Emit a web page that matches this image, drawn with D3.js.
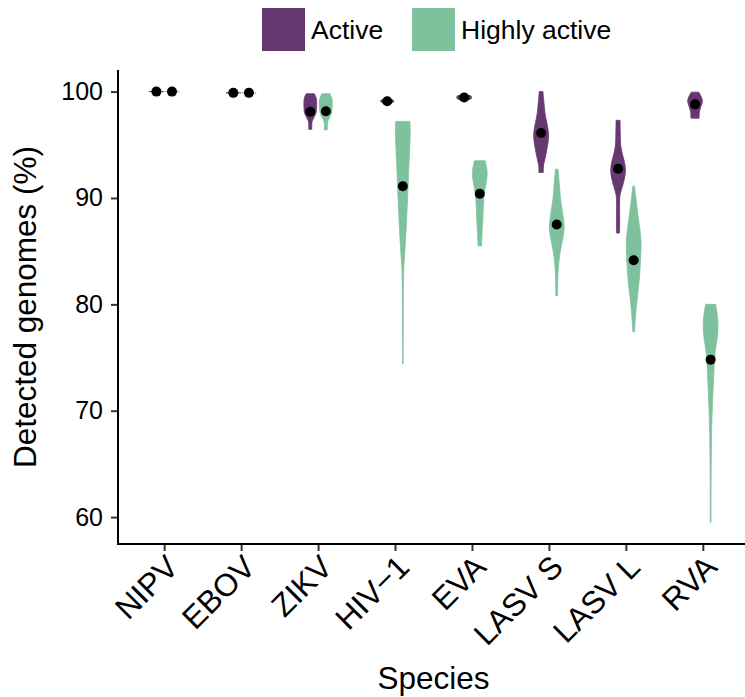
<!DOCTYPE html>
<html>
<head>
<meta charset="utf-8">
<script src="https://cdn.jsdelivr.net/npm/d3@7"></script>
<style>
  body { margin: 0; background: #fff; }
  text { font-family: "Liberation Sans", Arial, Helvetica, sans-serif; fill: #000; }
</style>
</head>
<body>
<svg id="chart" width="745" height="697"></svg>
<script>
// species on the x axis
var species = ["NIPV", "EBOV", "ZIKV", "HIV\u22121", "EVA", "LASV S", "LASV L", "RVA"];
var groups = ["Active", "Highly active"];
var colors = ["#663871", "#7dc19d"];
var yTicks = [60, 70, 80, 90, 100];

// median detected genomes (%)
var medianActive = [100, 99.88, 98.1, 99.1, 99.45, 96.1, 92.75, 98.8];
var medianHighly = [100, 99.88, 98.15, 91.1, 90.4, 87.5, 84.15, 74.8];

// violin outlines: [value %, relative density]
var violinActive = [
  [[100, 1], [100, 1]],
  [[99.88, 1], [99.88, 1]],
  [[99.8, 0.55], [99.4, 0.8], [99.0, 0.86], [98.4, 0.84], [98.0, 0.78], [97.5, 0.45], [97.2, 0.25], [96.8, 0.2], [96.45, 0.2]],
  [[99.3, 0.1], [99.2, 0.8], [99.1, 0.9], [99.0, 0.8], [98.85, 0.1]],
  [[99.7, 0.1], [99.6, 0.9], [99.45, 1], [99.3, 0.9], [99.2, 0.1]],
  [[100, 0.25], [99.3, 0.33], [98.75, 0.41], [98.0, 0.52], [97.5, 0.64], [96.8, 0.85], [96.0, 1], [95.3, 0.95], [94.4, 0.73], [93.6, 0.5], [93.1, 0.33], [92.4, 0.3]],
  [[97.3, 0.27], [96.0, 0.3], [95.0, 0.35], [94.2, 0.55], [93.4, 0.85], [92.6, 1], [91.8, 0.85], [91.0, 0.55], [90.3, 0.27], [89.5, 0.2], [88.0, 0.22], [86.7, 0.2]],
  [[99.95, 0.5], [99.5, 0.85], [99.1, 1], [98.6, 0.8], [98.1, 0.6], [97.5, 0.55]]
];
var violinHighly = [
  [[100, 1], [100, 1]],
  [[99.88, 1], [99.88, 1]],
  [[99.8, 0.55], [99.4, 0.8], [99.0, 0.86], [98.4, 0.84], [98.0, 0.78], [97.5, 0.45], [97.2, 0.25], [96.8, 0.2], [96.4, 0.2]],
  [[97.2, 0.95], [96.5, 1], [95, 0.95], [93, 0.82], [91, 0.7], [89, 0.58], [87, 0.44], [85, 0.28], [83.5, 0.13], [82, 0.08], [80, 0.06], [78, 0.05], [76, 0.04], [74.4, 0.04]],
  [[93.5, 0.73], [93.0, 0.88], [92.4, 1], [91.8, 0.95], [91.0, 0.75], [90.4, 0.6], [89.5, 0.5], [88.0, 0.41], [87.0, 0.33], [86.0, 0.26], [85.5, 0.24]],
  [[92.7, 0.18], [91.2, 0.36], [90.0, 0.5], [89.3, 0.64], [88.3, 0.85], [87.3, 1], [86.5, 0.9], [85.6, 0.64], [84.4, 0.36], [83.0, 0.18], [82.0, 0.14], [80.8, 0.12]],
  [[91.1, 0.12], [90.0, 0.3], [88.5, 0.55], [87.0, 0.85], [85.8, 1], [84.5, 0.95], [83.2, 0.85], [82.3, 0.75], [81.0, 0.55], [79.8, 0.36], [78.5, 0.2], [77.4, 0.12]],
  [[80.0, 0.68], [79.0, 0.9], [78.0, 1], [77.0, 0.92], [76.0, 0.7], [75.0, 0.55], [73.5, 0.42], [72.5, 0.36], [71.0, 0.27], [69.4, 0.18], [67.5, 0.12], [66.0, 0.09], [63.0, 0.06], [59.5, 0.05]]
];

var svg = d3.select("#chart");
var margin = { left: 118, right: 749, top: 70, bottom: 544 };

var x = d3.scalePoint().domain(species).range([margin.left, margin.right]).padding(0.6);
var y = d3.scaleLinear().domain([57.47, 102.03]).range([margin.bottom, margin.top]);
var dodge = 7.8;      // px offset of each group from the species centre
var halfWidth = d3.scaleLinear().domain([0, 1]).range([0, 7.4]);

//violins
var violins = [violinActive, violinHighly];
var medians = [medianActive, medianHighly];
var plot = svg.append("g");
groups.forEach(function(g, gi) {
  var off = gi === 0 ? -dodge : dodge;
  violins[gi].forEach(function(prof, i) {
    var cx = x(species[i]) + off;
    var area = d3.area()
      .y(function(d) { return y(d[0]); })
      .x0(function(d) { return cx - halfWidth(d[1]); })
      .x1(function(d) { return cx + halfWidth(d[1]); })
      .curve(d3.curveCatmullRom);
    plot.append("path")
      .datum(prof)
      .attr("d", area)
      .attr("fill", colors[gi])
      .attr("stroke", colors[gi])
      .attr("stroke-width", 0.8);
  });
});

//median points
groups.forEach(function(g, gi) {
  var off = gi === 0 ? -dodge : dodge;
  plot.selectAll(".med" + gi)
    .data(medians[gi])
    .enter()
    .append("circle")
    .attr("cx", function(d, i) { return x(species[i]) + off; })
    .attr("cy", function(d) { return y(d); })
    .attr("r", 5)
    .attr("fill", "#000");
});

//y axis
var yAxis = svg.append("g")
  .attr("transform", "translate(" + margin.left + ",0)")
  .call(d3.axisLeft(y).tickValues(yTicks).tickSize(7).tickPadding(8));
yAxis.select(".domain").remove();
yAxis.selectAll(".tick line").attr("stroke", "#333").attr("stroke-width", 2);
yAxis.selectAll(".tick text").style("font-size", "25px").attr("fill", "#000");
svg.append("line")
  .attr("x1", margin.left).attr("x2", margin.left)
  .attr("y1", margin.top).attr("y2", margin.bottom + 1)
  .attr("stroke", "#000").attr("stroke-width", 2);

//x axis
var xAxis = svg.append("g")
  .attr("transform", "translate(0," + margin.bottom + ")")
  .call(d3.axisBottom(x).tickSize(7).tickFormat(""));
xAxis.select(".domain").remove();
xAxis.selectAll(".tick line").attr("stroke", "#333").attr("stroke-width", 2);
svg.append("line")
  .attr("x1", margin.left - 1).attr("x2", 745)
  .attr("y1", margin.bottom).attr("y2", margin.bottom)
  .attr("stroke", "#000").attr("stroke-width", 2);

svg.selectAll(".xlab")
  .data(species)
  .enter()
  .append("text")
  .attr("class", "xlab")
  .attr("transform", function(d) { return "translate(" + (x(d) + 16) + "," + (margin.bottom + 25) + ") rotate(-45)"; })
  .attr("text-anchor", "end")
  .style("font-size", "31.5px")
  .text(function(d) { return d; });

//axis titles
svg.append("text")
  .attr("x", (margin.left + margin.right) / 2)
  .attr("y", 689)
  .attr("text-anchor", "middle")
  .style("font-size", "31.5px")
  .text("Species");

svg.append("text")
  .attr("transform", "translate(36," + (margin.top + margin.bottom) / 2 + ") rotate(-90)")
  .attr("text-anchor", "middle")
  .style("font-size", "31.5px")
  .text("Detected genomes (%)");

//legend
var legendX = [262, 412];
var legend = svg.append("g");
groups.forEach(function(g, gi) {
  legend.append("rect")
    .attr("x", legendX[gi]).attr("y", 8)
    .attr("width", 43).attr("height", 43)
    .attr("fill", colors[gi]);
  legend.append("text")
    .attr("x", legendX[gi] + 49).attr("y", 39)
    .style("font-size", "26.5px")
    .text(g);
});
</script>
</body>
</html>
